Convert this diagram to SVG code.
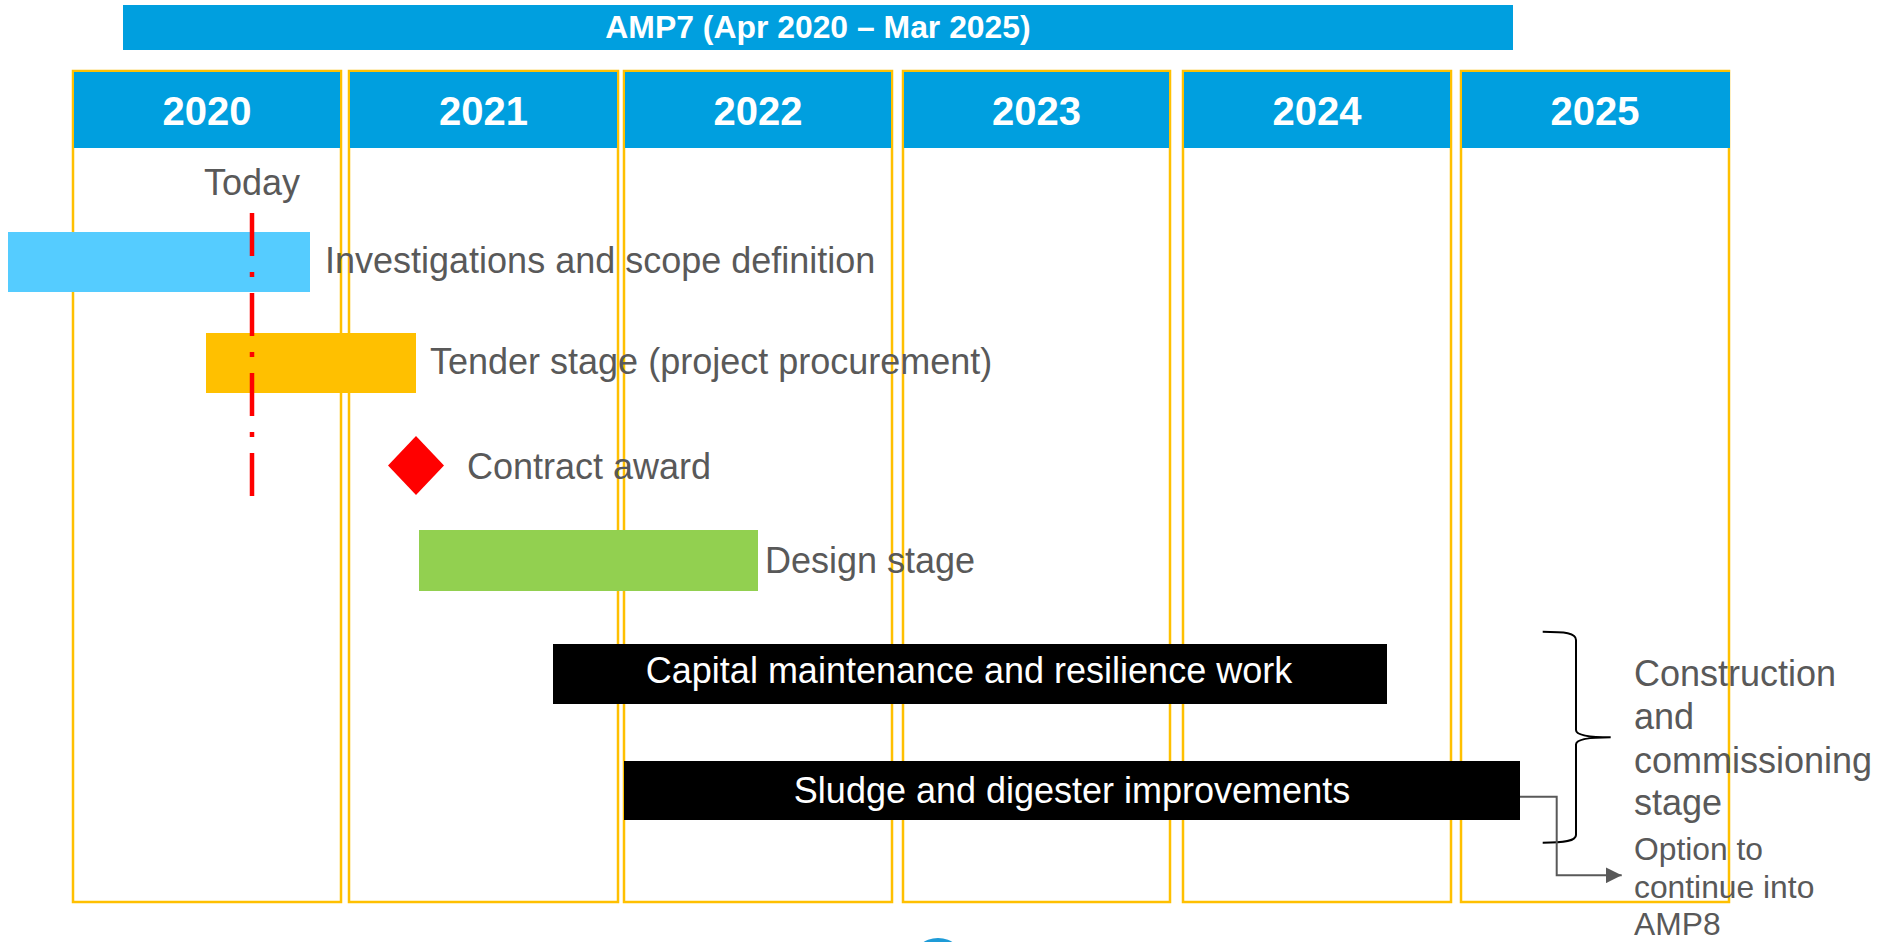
<svg xmlns="http://www.w3.org/2000/svg" width="1879" height="942" viewBox="0 0 1879 942">
<defs>
<style>
.col{fill:#FFFFFF;stroke:#FFC000;stroke-width:2.5}
.hdr{fill:#009FDF}
.yr{font-family:"Liberation Sans",Arial,sans-serif;font-weight:bold;font-size:40px;fill:#FFFFFF;text-anchor:middle}
.lbl{font-family:"Liberation Sans",Arial,sans-serif;font-size:36px;fill:#595959}
.bartxt{font-family:"Liberation Sans",Arial,sans-serif;font-size:36px;fill:#FFFFFF;text-anchor:middle}
.small{font-family:"Liberation Sans",Arial,sans-serif;font-size:31.8px;fill:#595959}
</style>
<marker id="arr" markerWidth="16" markerHeight="16" refX="16" refY="8" orient="auto" markerUnits="userSpaceOnUse" viewBox="0 0 16 16">
<path d="M0,0 L16,8 L0,16 Z" fill="#595959"/>
</marker>
</defs>
<rect width="1879" height="942" fill="#FFFFFF"/>

<g id="amp7">
<rect x="123" y="5" width="1390" height="45" fill="#009FDF"/>
<text x="818" y="38" font-family="Liberation Sans, Arial, sans-serif" font-weight="bold" font-size="31.9" fill="#FFFFFF" text-anchor="middle">AMP7 (Apr 2020 – Mar 2025)</text>
</g>

<g id="col2020"><rect class="col" x="73" y="71" width="268" height="831"/><rect class="hdr" x="74" y="72" width="266" height="76"/><text class="yr" x="207" y="125">2020</text></g>
<g id="col2021"><rect class="col" x="349" y="71" width="269" height="831"/><rect class="hdr" x="350" y="72" width="267" height="76"/><text class="yr" x="483.5" y="125">2021</text></g>
<g id="col2022"><rect class="col" x="624" y="71" width="268" height="831"/><rect class="hdr" x="625" y="72" width="266" height="76"/><text class="yr" x="758" y="125">2022</text></g>
<g id="col2023"><rect class="col" x="903" y="71" width="267" height="831"/><rect class="hdr" x="904" y="72" width="265" height="76"/><text class="yr" x="1036.5" y="125">2023</text></g>
<g id="col2024"><rect class="col" x="1183" y="71" width="268" height="831"/><rect class="hdr" x="1184" y="72" width="266" height="76"/><text class="yr" x="1317" y="125">2024</text></g>
<g id="col2025"><rect class="col" x="1461" y="71" width="268" height="831"/><rect class="hdr" x="1462" y="72" width="268" height="76"/><text class="yr" x="1595" y="125">2025</text></g>

<g id="investigations">
<rect x="8" y="232" width="302" height="60" fill="#55CCFF"/>
<text class="lbl" x="325" y="273">Investigations and scope definition</text>
</g>
<g id="tender">
<rect x="206" y="333" width="210" height="60" fill="#FFC000"/>
<text class="lbl" x="430" y="374">Tender stage (project procurement)</text>
</g>
<g id="today">
<text class="lbl" x="204" y="195" font-size="35.3">Today</text>
<line x1="252" y1="213" x2="252" y2="496" stroke="#FF0000" stroke-width="4.5" stroke-dasharray="43 16 5 16"/>
</g>
<g id="contract">
<polygon points="416,436 444,465.5 416,495 388,465.5" fill="#FF0000"/>
<text class="lbl" x="467" y="479">Contract award</text>
</g>
<g id="design">
<rect x="419" y="530" width="339" height="61" fill="#92D050"/>
<text class="lbl" x="765" y="573">Design stage</text>
</g>
<g id="capital">
<rect x="553" y="644" width="834" height="60" fill="#000000"/>
<text class="bartxt" x="969" y="683">Capital maintenance and resilience work</text>
</g>
<g id="sludge">
<rect x="624" y="761" width="896" height="59" fill="#000000"/>
<text class="bartxt" x="1072" y="803">Sludge and digester improvements</text>
</g>
<g id="construction">
<text class="lbl" x="1634" y="686">Construction</text>
<text class="lbl" x="1634" y="729">and</text>
<text class="lbl" x="1634" y="772.5">commissioning</text>
<text class="lbl" x="1634" y="815">stage</text>
</g>
<g id="option">
<text class="small" x="1634" y="860">Option to</text>
<text class="small" x="1634" y="898">continue into</text>
<text class="small" x="1634" y="935">AMP8</text>
</g>
<g id="logo">
<ellipse cx="938" cy="962" rx="26" ry="24" fill="#1E9BD7"/>
</g>

<g id="connectors">
<path d="M1542.7,631.7 C1565,631.7 1576,633 1576,640 L1576,730 C1576,735 1590,737.3 1610.7,737.3 C1590,737.3 1576,739.5 1576,744.5 L1576,835 C1576,841 1565,842.7 1542.7,842.7" fill="none" stroke="#000000" stroke-width="2"/>
<path d="M1520,796.7 L1556.7,796.7 L1556.7,875.3 L1621.7,875.3" fill="none" stroke="#595959" stroke-width="2" marker-end="url(#arr)"/>
</g>
</svg>
